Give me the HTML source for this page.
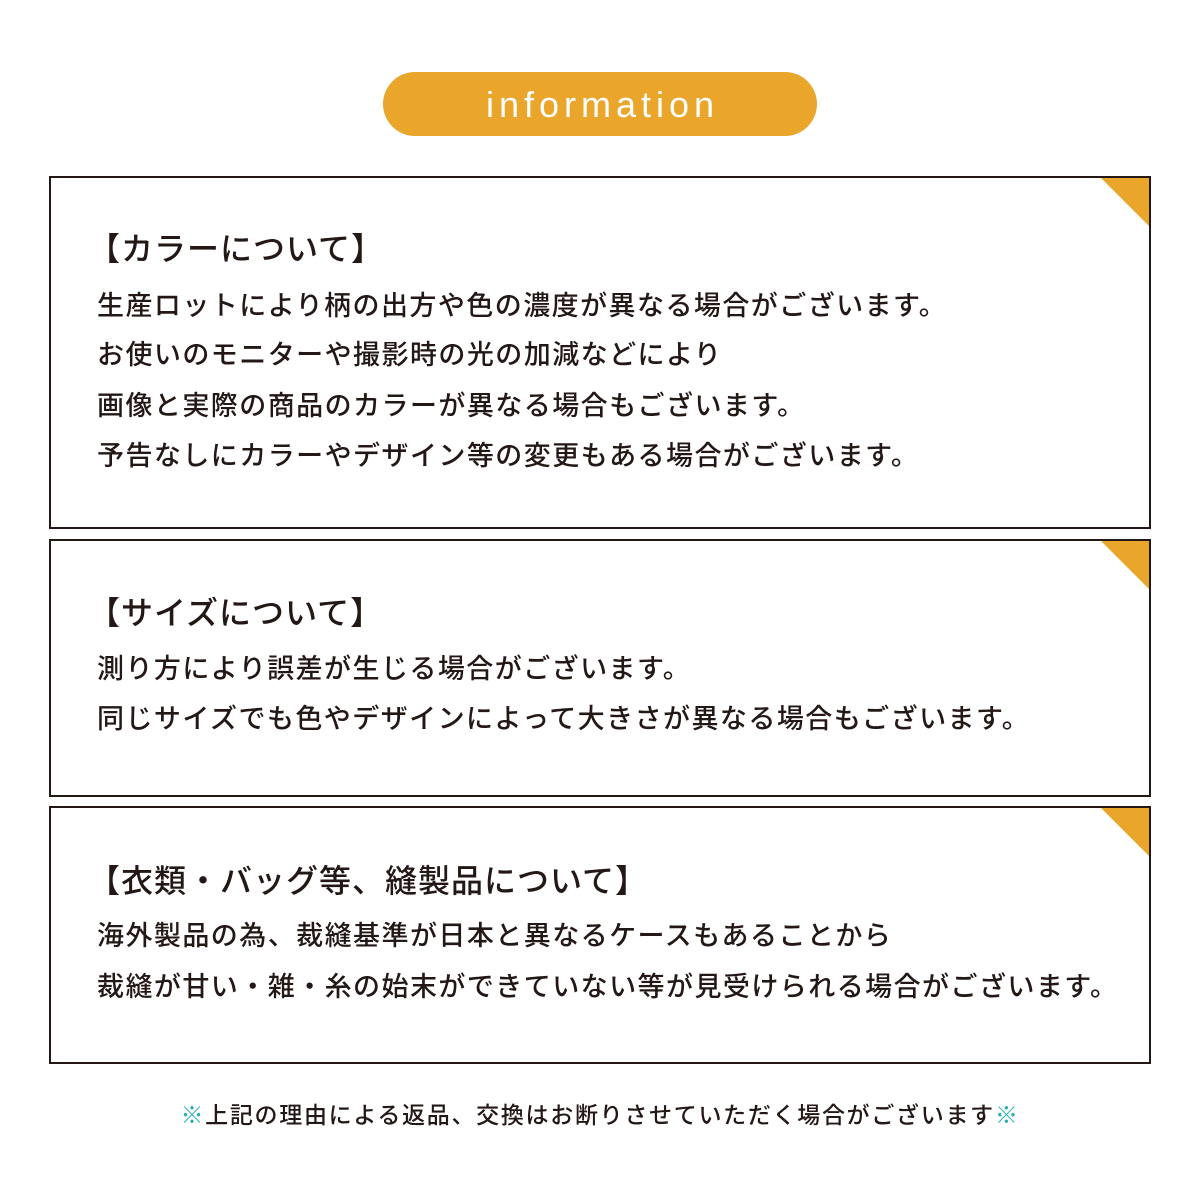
<!DOCTYPE html>
<html><head><meta charset="utf-8"><style>
body{margin:0;width:1200px;height:1200px;background:#fff;position:relative;overflow:hidden;font-family:"Liberation Sans","Noto Sans CJK JP",sans-serif;color:#231815}
.pill{position:absolute;left:383px;top:72px;width:434px;height:64px;border-radius:32px;background:#EAA62A;color:#fff;font-size:36px;letter-spacing:5px;text-indent:5px;text-align:center;line-height:66px}
.box{position:absolute;left:49px;width:1098px;border:2px solid #231815;overflow:hidden}
.box:after{content:"";position:absolute;right:0;top:0;border-top:48px solid #EAA62A;border-left:48px solid transparent}
.t{position:absolute;white-space:nowrap;font-weight:500}
.h{font-size:32px;left:37px;letter-spacing:1.0px}
.l{font-size:27px;left:46px;letter-spacing:1.45px}
.f{position:absolute;top:1096px;left:0;width:1200px;text-align:center;font-size:23px;letter-spacing:1.7px;white-space:nowrap;font-weight:500}
.f span{color:#2AB0B5}
</style></head><body>
<div class="pill">information</div>
<div class="box" style="top:176px;height:349px">
<div class="t h" style="top:46px">【カラーについて】</div>
<div class="t l" style="top:106px">生産ロットにより柄の出方や色の濃度が異なる場合がございます。</div>
<div class="t l" style="top:155px">お使いのモニターや撮影時の光の加減などにより</div>
<div class="t l" style="top:206px">画像と実際の商品のカラーが異なる場合もございます。</div>
<div class="t l" style="top:256px">予告なしにカラーやデザイン等の変更もある場合がございます。</div>
</div>
<div class="box" style="top:539px;height:254px">
<div class="t h" style="top:47px">【サイズについて】</div>
<div class="t l" style="top:106px">測り方により誤差が生じる場合がございます。</div>
<div class="t l" style="top:156px">同じサイズでも色やデザインによって大きさが異なる場合もございます。</div>
</div>
<div class="box" style="top:806px;height:254px">
<div class="t h" style="top:48px">【衣類・バッグ等、縫製品について】</div>
<div class="t l" style="top:106px">海外製品の為、裁縫基準が日本と異なるケースもあることから</div>
<div class="t l" style="top:157px">裁縫が甘い・雑・糸の始末ができていない等が見受けられる場合がございます。</div>
</div>
<div class="f"><span>※</span>上記の理由による返品、交換はお断りさせていただく場合がございます<span>※</span></div>
</body></html>
